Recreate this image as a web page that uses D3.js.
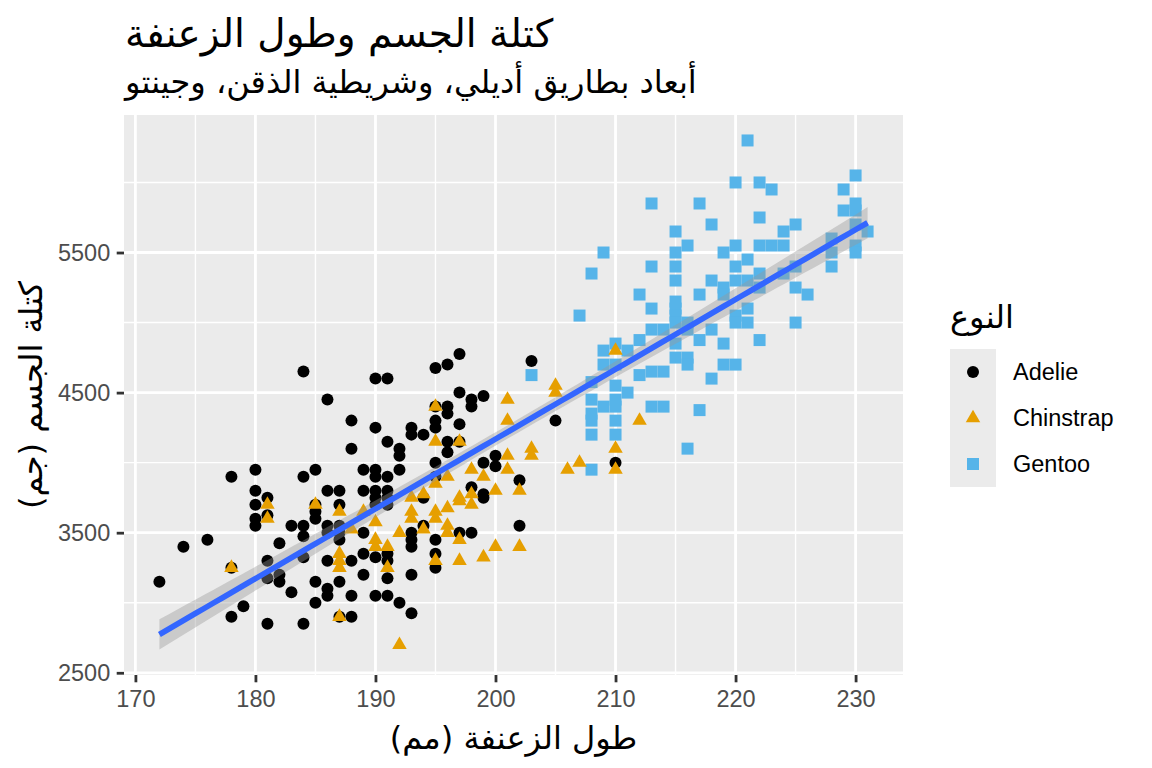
<!DOCTYPE html>
<html lang="ar">
<head>
<meta charset="UTF-8">
<title>كتلة الجسم وطول الزعنفة</title>
<script src="https://cdn.jsdelivr.net/npm/d3@7"></script>
<style>
  body { margin: 0; background: #ffffff; }
  svg { display: block; font-family: "Liberation Sans", Arial, "DejaVu Sans", sans-serif; }
  .ar { font-family: "DejaVu Sans", sans-serif; }
  .tick text { fill: #4d4d4d; font-size: 23.5px; font-family: "Liberation Sans", Arial, sans-serif; }
  .tick line { stroke: #333333; stroke-width: 2.8px; }
</style>
</head>
<body>
<svg id="chart" width="1152" height="768"></svg>
<script>
// values (flipper length mm, body mass g)
const adelieFlipper = [184,180,178,184,180,181,180,181,180,180,183,184,184,182,176,174,178,181,184,181,182,182,183,172,179,178,181,184,
  190,191,186,188,190,193,193,194,191,188,192,192,185,189,190,190,191,192,186,187,189,190,191,187,190,185,185,185,190,191,191,194,
  186,186,187,187,187,189,193,193,193,190,191,191,187,186,188,189,189,191,185,186,186,185,188,190,191,192,193,193,187,188,
  195,196,197,203,197,198,198,199,195,196,196,205,195,195,197,196,197,196,195,200,200,199,195,198,199,199,202,194,202,197,198,195,195,195,210];
const adelieMass = [4650,3950,3900,3900,3800,3750,3700,3625,3600,3550,3550,3550,3475,3425,3450,3400,3250,3300,3325,3175,3200,3150,3075,3150,2975,2900,2850,2850,
  4600,4600,4450,4300,4250,4250,4200,4200,4150,4100,4100,4050,3950,3950,3950,3900,3900,3950,3800,3800,3800,3800,3800,3700,3700,3700,3650,3600,3750,3750,3700,3750,
  3550,3500,3550,3500,3450,3500,3500,3450,3400,3325,3350,3300,3150,3300,3300,3350,3200,3175,3150,3100,3050,3000,3050,3050,3050,3000,3200,2925,2900,2900,
  4675,4700,4775,4725,4500,4450,4400,4475,4400,4400,4350,4300,4300,4250,4275,4150,4150,4075,4000,4050,3975,4000,3900,3825,3775,3750,3875,3550,3550,3500,3500,3450,3350,3250,4000];

const gentooFlipper = [203,207,212,213,215,215,215,215,213,214,212,210,209,211,209,210,212,213,214,215,215,208,210,211,208,210,209,210,213,214,
  208,208,210,208,210,208,216,217,218,219,219,220,222,225,226,220,221,220,221,225,216,216,218,217,219,222,216,216,219,220,218,217,
  213,217,218,215,216,209,215,219,213,215,208,215,221,220,222,223,230,229,222,225,224,229,230,230,230,231,228,220,222,223,224,230,
  230,228,221,220,228,222,221,225,224];
const gentooMass = [4625,5050,5200,5100,5150,5100,5050,5000,4950,4950,4875,4850,4800,4800,4700,4700,4625,4650,4650,4750,4850,4575,4550,4500,4450,4450,4400,4400,4400,4400,
  4350,4300,4300,4200,4200,3950,4100,5200,5300,5250,5200,5300,5250,5250,5200,5050,5100,5000,5000,5000,5000,4950,4950,4875,4850,4875,4750,4700,4700,4700,4600,4375,
  5850,5850,5700,5650,5550,5500,5500,5500,5400,5400,5350,5300,6300,6000,6000,5950,6050,5950,5750,5700,5650,5800,5850,5800,5700,5650,5600,5550,5550,5550,5550,5550,
  5500,5500,5450,5400,5400,5350,5300,5400,5350];

const chinstrapFlipper = [181,181,178,185,187,189,193,194,193,193,190,188,192,194,190,190,191,187,187,187,191,187,192,
  195,201,201,205,205,195,197,203,203,201,201,198,199,196,195,198,197,197,198,202,200,195,195,196,196,196,197,195,197,199,200,202,
  210,212,207,206,210,210];
const chinstrapMass = [3700,3600,3250,3700,3650,3650,3750,3775,3650,3600,3575,3525,3500,3525,3450,3400,3400,3350,3300,3250,3250,2900,2700,
  4400,4450,4300,4550,4500,4150,4150,4100,4050,4050,3950,3950,3900,3900,3850,3775,3750,3725,3700,3800,3800,3650,3600,3675,3550,3500,3450,3300,3300,3325,3400,3400,
  4800,4300,4000,3950,4100,3950];

const species = ["Adelie", "Chinstrap", "Gentoo"];
const speciesColors = ["#000000", "#E69F00", "#56B4E9"];
const xTicks = [170, 180, 190, 200, 210, 220, 230];
const xMinor = [175, 185, 195, 205, 215, 225];
const yTicks = [2500, 3500, 4500, 5500];
const yMinor = [3000, 4000, 5000, 6000];

const titleText = "كتلة الجسم وطول الزعنفة";
const subtitleText = "أبعاد بطاريق أديلي، وشريطية الذقن، وجينتو";
const xTitle = "طول الزعنفة (مم)";
const yTitle = "كتلة الجسم (جم)";
const legendTitle = "النوع";

// rows in the same order ggplot would draw them
const zipRows = (fl, bm, sp) => fl.map((f, i) => ({flipper: f, mass: bm[i], species: sp}));
const rows = [].concat(
  zipRows(adelieFlipper, adelieMass, "Adelie"),
  zipRows(gentooFlipper, gentooMass, "Gentoo"),
  zipRows(chinstrapFlipper, chinstrapMass, "Chinstrap")
);

// lm fit with 95% band
const n = rows.length;
const mx = d3.mean(rows, d => d.flipper), my = d3.mean(rows, d => d.mass);
const sxx = d3.sum(rows, d => (d.flipper - mx) ** 2);
const sxy = d3.sum(rows, d => (d.flipper - mx) * (d.mass - my));
const slope = sxy / sxx, intercept = my - slope * mx;
const sse = d3.sum(rows, d => (d.mass - intercept - slope * d.flipper) ** 2);
const s = Math.sqrt(sse / (n - 2));
const tq = 1.968;
const [xmin, xmax] = d3.extent(rows, d => d.flipper);
const fit = d3.range(80).map(i => {
  const xv = xmin + (xmax - xmin) * i / 79;
  const yv = intercept + slope * xv;
  const se = s * Math.sqrt(1 / n + (xv - mx) ** 2 / sxx);
  return {x: xv, y: yv, lo: yv - tq * se, hi: yv + tq * se};
});

const panel = {left: 124, right: 903, top: 115, bottom: 675};

const expand = ([a, b]) => [a - (b - a) * 0.05, b + (b - a) * 0.05];
const yLo = Math.min(d3.min(rows, d => d.mass), d3.min(fit, d => d.lo));
const yHi = Math.max(d3.max(rows, d => d.mass), d3.max(fit, d => d.hi));

const x = d3.scaleLinear().domain(expand([xmin, xmax])).range([panel.left, panel.right]);
const y = d3.scaleLinear().domain(expand([yLo, yHi])).range([panel.bottom, panel.top]);
const color = d3.scaleOrdinal().domain(species).range(speciesColors);

const svg = d3.select("#chart");

svg.append("rect")
  .attr("x", panel.left).attr("y", panel.top)
  .attr("width", panel.right - panel.left).attr("height", panel.bottom - panel.top)
  .attr("fill", "#ebebeb");

const grid = svg.append("g");
grid.selectAll(".xminor").data(xMinor).join("line")
  .attr("x1", d => x(d)).attr("x2", d => x(d))
  .attr("y1", panel.top).attr("y2", panel.bottom)
  .attr("stroke", "#fff").attr("stroke-width", 1.4);
grid.selectAll(".yminor").data(yMinor).join("line")
  .attr("y1", d => y(d)).attr("y2", d => y(d))
  .attr("x1", panel.left).attr("x2", panel.right)
  .attr("stroke", "#fff").attr("stroke-width", 1.4);
grid.selectAll(".xmajor").data(xTicks).join("line")
  .attr("x1", d => x(d)).attr("x2", d => x(d))
  .attr("y1", panel.top).attr("y2", panel.bottom)
  .attr("stroke", "#fff").attr("stroke-width", 2.8);
grid.selectAll(".ymajor").data(yTicks).join("line")
  .attr("y1", d => y(d)).attr("y2", d => y(d))
  .attr("x1", panel.left).attr("x2", panel.right)
  .attr("stroke", "#fff").attr("stroke-width", 2.8);

// point shapes
const shapeFor = {
  Adelie: d3.symbol(d3.symbolCircle, Math.PI * 36),
  Chinstrap: d3.symbol(d3.symbolTriangle, 14.5 * 14.5 * Math.sqrt(3) / 4),
  Gentoo: d3.symbol(d3.symbolSquare, 144)
};

svg.append("g").selectAll("path")
  .data(rows)
  .join("path")
  .attr("transform", d => `translate(${x(d.flipper)},${y(d.mass)})`)
  .attr("d", d => shapeFor[d.species]())
  .attr("fill", d => color(d.species));

// smooth
svg.append("path")
  .datum(fit)
  .attr("d", d3.area().x(d => x(d.x)).y0(d => y(d.lo)).y1(d => y(d.hi)))
  .attr("fill", "#999999").attr("fill-opacity", 0.4);
svg.append("path")
  .datum(fit)
  .attr("d", d3.line().x(d => x(d.x)).y(d => y(d.y)))
  .attr("fill", "none").attr("stroke", "#3366FF").attr("stroke-width", 5.7);

// axes
const xAxis = svg.append("g")
  .attr("transform", `translate(0,${panel.bottom})`)
  .call(d3.axisBottom(x).tickValues(xTicks).tickSize(7.3).tickPadding(8.5));
const yAxis = svg.append("g")
  .attr("transform", `translate(${panel.left},0)`)
  .call(d3.axisLeft(y).tickValues(yTicks).tickFormat(d3.format("d")).tickSize(7.3).tickPadding(6.5));
xAxis.select(".domain").remove();
yAxis.select(".domain").remove();

// titles
svg.append("text").attr("class", "ar")
  .attr("x", 125).attr("y", 47)
  .attr("direction", "rtl").attr("text-anchor", "end")
  .attr("font-size", 39).attr("fill", "#000")
  .text(titleText);
svg.append("text").attr("class", "ar")
  .attr("x", 125).attr("y", 93)
  .attr("direction", "rtl").attr("text-anchor", "end")
  .attr("font-size", 32).attr("fill", "#000")
  .text(subtitleText);
svg.append("text").attr("class", "ar")
  .attr("x", (panel.left + panel.right) / 2).attr("y", 749)
  .attr("direction", "rtl").attr("text-anchor", "middle")
  .attr("font-size", 32).attr("fill", "#000")
  .text(xTitle);
svg.append("text").attr("class", "ar")
  .attr("transform", `translate(42,${(panel.top + panel.bottom) / 2}) rotate(-90)`)
  .attr("direction", "rtl").attr("text-anchor", "middle")
  .attr("font-size", 32).attr("fill", "#000")
  .text(yTitle);

// legend
const legend = svg.append("g").attr("transform", "translate(950,349)");
const keyH = 46;
legend.append("text").attr("class", "ar")
  .attr("x", 0).attr("y", -21)
  .attr("direction", "rtl").attr("text-anchor", "end")
  .attr("font-size", 32).attr("fill", "#000")
  .text(legendTitle);
legend.append("rect")
  .attr("width", 46).attr("height", keyH * species.length)
  .attr("fill", "#ebebeb");
const item = legend.selectAll(".item").data(species).join("g")
  .attr("transform", (d, i) => `translate(0,${i * keyH})`);
item.append("path")
  .attr("transform", `translate(23,${keyH / 2})`)
  .attr("d", d => shapeFor[d]())
  .attr("fill", d => color(d));
item.append("text")
  .attr("x", 63).attr("y", keyH / 2).attr("dy", "0.35em")
  .attr("font-size", 23.5).attr("fill", "#000")
  .text(d => d);
</script>
</body>
</html>
